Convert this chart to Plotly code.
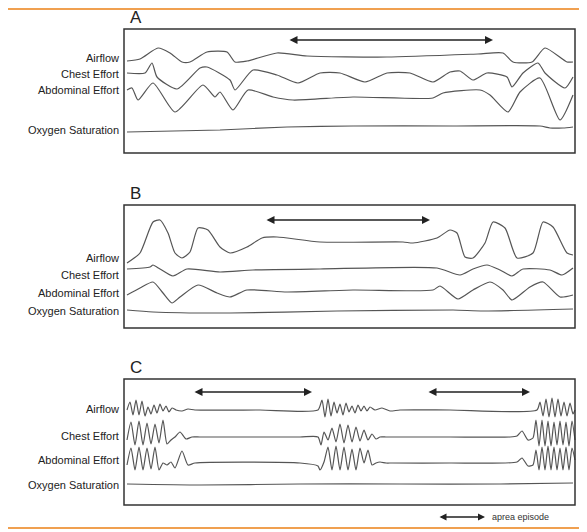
import plotly.graph_objects as go

# page-pixel coordinates (x right, y down)

# ---- panel A ----
a_air_x = [127, 140, 158, 170, 182, 190, 207, 227, 235, 247, 277, 307, 387, 478, 503, 513, 532, 545, 567, 573]
a_air_y = [61, 59, 48, 53, 62, 62, 52, 52, 62, 61, 53, 56, 57, 54, 53, 62, 62, 48, 62, 62]
a_chest_x = [127, 145, 152, 157, 177, 200, 207, 230, 235, 253, 277, 298, 320, 340, 365, 387, 410, 433, 450,
             460, 473, 487, 507, 512, 523, 538, 545, 565, 573]
a_chest_y = [73, 73, 63, 77, 89, 68, 67, 80, 90, 70, 75, 83, 73, 73, 82, 73, 73, 82, 72,
             71, 80, 73, 77, 87, 73, 63, 73, 88, 77]
a_abd_x = [127, 132, 138, 153, 175, 203, 215, 220, 233, 248, 273, 293, 353, 433, 443, 480, 490, 508, 520, 540, 560, 573]
a_abd_y = [90, 88, 100, 83, 112, 85, 97, 92, 110, 90, 97, 100, 97, 98, 93, 90, 95, 112, 92, 78, 120, 95]
a_oxy_x = [127, 220, 287, 353, 453, 540, 550, 563, 573]
a_oxy_y = [132, 130, 127, 126, 126, 126, 128, 128, 127]

# ---- panel B ----
b_air_x = [127, 140, 153, 160, 168, 175, 182, 190, 198, 208, 220, 230, 247, 262, 277, 320, 403, 413, 437, 450,
           457, 465, 473, 485, 493, 505, 517, 533, 543, 553, 567, 573]
b_air_y = [263, 253, 222, 220, 233, 253, 258, 252, 228, 230, 247, 253, 247, 238, 237, 242, 242, 243, 238, 230,
           233, 257, 258, 243, 222, 228, 258, 253, 222, 227, 253, 255]
b_chest_x = [127, 150, 153, 160, 173, 187, 220, 253, 320, 437, 460, 473, 487, 500, 512, 523, 550, 562, 573]
b_chest_y = [269, 267, 265, 269, 276, 269, 272, 270, 269, 268, 275, 269, 265, 270, 276, 269, 270, 275, 268]
b_abd_x = [127, 140, 153, 163, 172, 180, 198, 217, 230, 247, 287, 353, 433, 440, 458, 473, 490, 503, 512, 530, 543, 560, 573]
b_abd_y = [295, 288, 282, 293, 303, 297, 285, 293, 297, 290, 292, 290, 290, 286, 299, 290, 282, 290, 300, 287, 282, 297, 295]
b_oxy_x = [127, 153, 230, 337, 453, 483, 573]
b_oxy_y = [310, 312, 313, 311, 310, 311, 309]

# ---- panel C ----
c_air_x = ([127, 130, 133, 136, 139, 142, 145, 148, 151, 154, 157, 160, 163, 166, 169, 172]
           + [176, 182, 188, 195, 260, 318]
           + [322, 325, 328, 331, 334, 337, 340, 343, 346, 349, 352, 355, 358, 361, 364, 367, 370]
           + [375, 382, 390, 400, 450, 537]
           + [540, 543, 546, 549, 552, 555, 558, 561, 564, 567, 570, 573, 575])
c_air_y = ([410, 402, 415, 400, 415, 401, 416, 407, 414, 405, 413, 404, 411, 406, 412, 408]
           + [410, 411, 409, 410, 410, 410]
           + [400, 417, 399, 416, 402, 413, 404, 415, 403, 412, 406, 413, 405, 411, 406, 411, 407]
           + [410, 408, 411, 410, 410, 410]
           + [402, 416, 399, 417, 398, 417, 399, 416, 402, 416, 403, 414, 410])
c_chest_x = ([127, 131, 135, 139, 143, 147, 151, 155, 159, 163, 167, 171]
             + [175, 180, 186, 192, 200, 300]
             + [318, 321, 324, 328, 332, 336, 340, 344, 348, 352, 356, 360, 364, 368, 372, 376, 380]
             + [386, 392, 400, 450, 510, 517, 522, 528, 533]
             + [536, 539, 542, 545, 548, 551, 554, 557, 560, 563, 566, 569, 572, 575])
c_chest_y = ([440, 422, 445, 421, 445, 423, 444, 424, 443, 420, 444, 440]
             + [437, 432, 439, 437, 437, 437]
             + [437, 445, 432, 440, 428, 442, 424, 443, 425, 442, 427, 441, 430, 440, 434, 439, 437]
             + [437, 437, 437, 437, 437, 436, 431, 440, 438]
             + [420, 446, 420, 446, 421, 446, 422, 445, 421, 445, 422, 446, 421, 440])
c_abd_x = ([127, 131, 135, 139, 143, 147, 151, 155, 159, 163, 167, 171]
           + [175, 182, 188, 195, 300]
           + [318, 320, 324, 328, 332, 336, 340, 344, 348, 352, 356, 360, 364, 368, 372, 376, 380, 386, 392]
           + [450, 517, 522, 528, 533]
           + [536, 539, 542, 545, 548, 551, 554, 557, 560, 563, 566, 569, 572, 575])
c_abd_y = ([465, 448, 470, 447, 470, 448, 469, 447, 470, 463, 465, 462]
           + [468, 451, 465, 463, 463]
           + [466, 470, 462, 447, 470, 446, 470, 447, 470, 449, 470, 448, 463, 450, 465, 463, 462, 463, 463]
           + [463, 462, 458, 466, 465]
           + [450, 470, 447, 470, 446, 470, 447, 470, 448, 470, 447, 470, 448, 460])
c_oxy_x = [127, 200, 300, 400, 500, 573]
c_oxy_y = [484, 485, 484, 484, 484, 483]

# panel boxes, letters, row labels and apnea arrows
panel_names = ["A", "B", "C"]
panel_box = [(124, 29, 575, 153), (124, 205, 575, 328), (124, 379, 575, 505)]
channel_names = ["Airflow", "Chest Effort", "Abdominal Effort", "Oxygen Saturation"]
label_y = [[58, 74, 90, 130], [258, 275, 293, 311], [409, 436, 460, 485]]
apnea_arrows = [(288, 493, 40), (265, 430, 220), (193, 312, 392), (427, 530, 392)]

traces = [(a_air_x, a_air_y), (a_chest_x, a_chest_y), (a_abd_x, a_abd_y), (a_oxy_x, a_oxy_y),
          (b_air_x, b_air_y), (b_chest_x, b_chest_y), (b_abd_x, b_abd_y), (b_oxy_x, b_oxy_y),
          (c_air_x, c_air_y), (c_chest_x, c_chest_y), (c_abd_x, c_abd_y), (c_oxy_x, c_oxy_y)]

fig = go.Figure()
for xs, ys in traces:
    fig.add_trace(go.Scatter(x=xs, y=ys, mode="lines", line=dict(color="#555555", width=1.2, shape="spline", smoothing=0.6),
                             hoverinfo="skip", showlegend=False))

font = dict(family="Liberation Sans, Arial, sans-serif", size=11, color="#222222")
for i, name in enumerate(panel_names):
    x0, y0, x1, y1 = panel_box[i]
    fig.add_shape(type="rect", x0=x0, y0=y0, x1=x1, y1=y1, line=dict(color="#333333", width=1.5))
    fig.add_annotation(x=128, y=y0 - 12, text=name, showarrow=False, xanchor="left",
                       font=dict(family="Liberation Sans, Arial, sans-serif", size=17, color="#222222"))
    for lab, ly in zip(channel_names, label_y[i]):
        fig.add_annotation(x=121, y=ly, text=lab, showarrow=False, xanchor="right", font=font)

for x0, x1, y in apnea_arrows:
    fig.add_annotation(x=x1, y=y, ax=x0, ay=y, axref="x", ayref="y", xref="x", yref="y", text="",
                       showarrow=True, arrowhead=2, arrowside="end+start", arrowwidth=1.6, arrowcolor="#222222")

# legend
fig.add_annotation(x=485, y=517, ax=438, ay=517, axref="x", ayref="y", text="", showarrow=True,
                   arrowhead=2, arrowside="end+start", arrowwidth=1.4, arrowcolor="#222222")
fig.add_annotation(x=490, y=517, text="aprea episode", showarrow=False, xanchor="left",
                   font=dict(family="Liberation Sans, Arial, sans-serif", size=9, color="#333333"))

# orange rules top and bottom
for yy in [9, 528]:
    fig.add_shape(type="line", x0=0, x1=600, y0=yy, y1=yy, line=dict(color="#f0a050", width=2))

# the page body has an 8px margin, so the ranges start at 8 to keep page pixels
fig.update_xaxes(range=[8, 587], visible=False)
fig.update_yaxes(range=[532, 8], visible=False)
fig.update_layout(width=579, height=524, margin=dict(l=0, r=0, t=0, b=0),
                  plot_bgcolor="white", paper_bgcolor="white")
fig.write_html("out.html")
